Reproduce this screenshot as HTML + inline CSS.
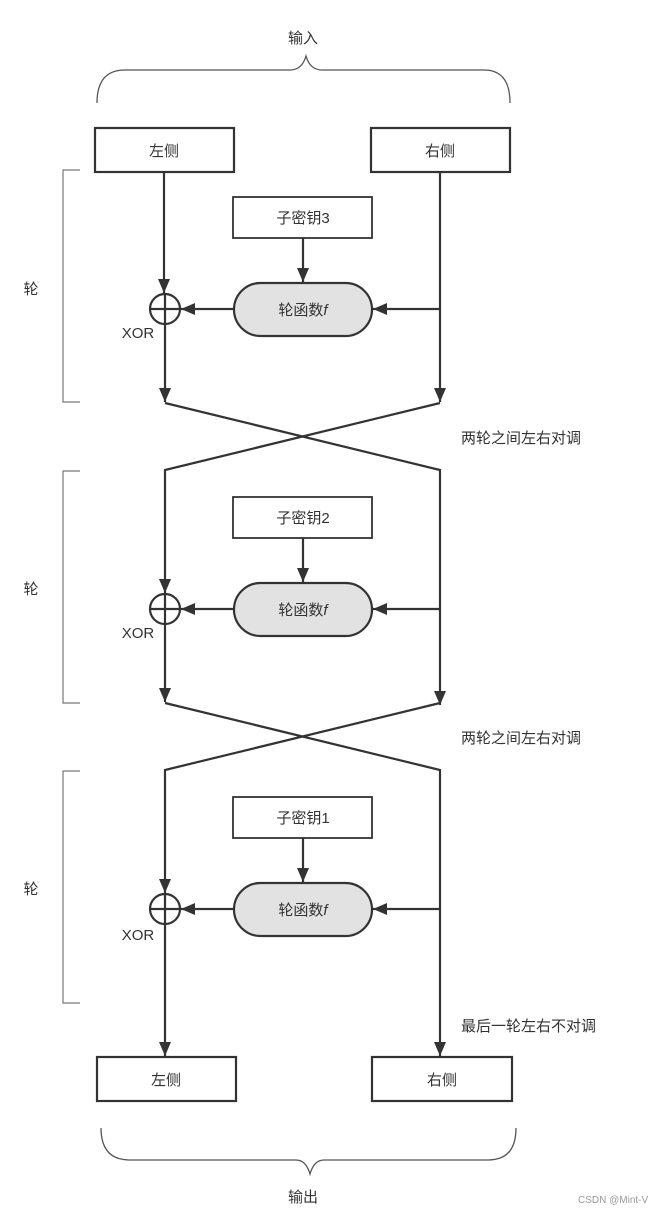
<!DOCTYPE html>
<html><head><meta charset="utf-8"><style>
body{margin:0;background:#fff;}
svg{display:block;}
text{font-family:"Liberation Sans","Noto Sans CJK SC",sans-serif;fill:#333;}
</style></head><body>
<svg width="664" height="1216" viewBox="0 0 664 1216" xmlns="http://www.w3.org/2000/svg">
<defs>
<marker id="a" markerWidth="10" markerHeight="10" refX="9" refY="5" orient="auto" markerUnits="userSpaceOnUse">
<path d="M0,0 L10,5 L0,10 z" fill="#333"/></marker>
<marker id="b" markerWidth="14" markerHeight="12" refX="14" refY="6" orient="auto" markerUnits="userSpaceOnUse">
<path d="M0,0 L14,6 L0,12 z" fill="#333"/></marker>
</defs>
<g stroke="#333" fill="none" stroke-width="2.2">
<!-- top brace -->
<path d="M97,103 Q97,70 125,70 L290,70 Q302,70 306,56 Q310,70 322,70 L484,70 Q510,70 510,103" stroke="#555" stroke-width="1.3"/>
<!-- bottom brace -->
<path d="M101,1128 Q101,1160 130,1160 L296,1160 Q306,1160 310,1174 Q314,1160 324,1160 L488,1160 Q516,1160 516,1128" stroke="#555" stroke-width="1.3"/>
<!-- side brackets -->
<path d="M80,170 L63,170 L63,402 L80,402" stroke="#777" stroke-width="1.2"/>
<path d="M80,471 L63,471 L63,703 L80,703" stroke="#777" stroke-width="1.2"/>
<path d="M80,771 L63,771 L63,1003 L80,1003" stroke="#777" stroke-width="1.2"/>
<!-- boxes -->
<rect x="95" y="128" width="139" height="44"/>
<rect x="371" y="128" width="139" height="44"/>
<rect x="97" y="1057" width="139" height="44"/>
<rect x="372" y="1057" width="140" height="44"/>
<rect x="233" y="197" width="139" height="41" stroke-width="1.8"/>
<rect x="233" y="497" width="139" height="41" stroke-width="1.8"/>
<rect x="233" y="797" width="139" height="41" stroke-width="1.8"/>
<rect x="234" y="283" width="138" height="53" rx="26.5" fill="#e2e2e2"/>
<rect x="234" y="583" width="138" height="53" rx="26.5" fill="#e2e2e2"/>
<rect x="234" y="883" width="138" height="53" rx="26.5" fill="#e2e2e2"/>
<!-- XOR circles -->
<circle cx="165" cy="309" r="15"/><path d="M150,309 H180 M165,294 V324"/>
<circle cx="165" cy="609" r="15"/><path d="M150,609 H180 M165,594 V624"/>
<circle cx="165" cy="909" r="15"/><path d="M150,909 H180 M165,894 V924"/>
<!-- round 1 -->
<path d="M164,172 V293" marker-end="url(#b)"/>
<path d="M440,172 V402" marker-end="url(#b)"/>
<path d="M303,238 V282" marker-end="url(#b)"/>
<path d="M440,309 H373" marker-end="url(#b)"/>
<path d="M234,309 H181" marker-end="url(#b)"/>
<path d="M165,324 V402" marker-end="url(#b)"/>
<path d="M165,403 L440,470 V705" marker-end="url(#b)"/>
<path d="M440,403 L165,470 V593" marker-end="url(#b)"/>
<!-- round 2 -->
<path d="M303,538 V582" marker-end="url(#b)"/>
<path d="M440,609 H373" marker-end="url(#b)"/>
<path d="M234,609 H181" marker-end="url(#b)"/>
<path d="M165,624 V702" marker-end="url(#b)"/>
<path d="M165,703 L440,770 V1056" marker-end="url(#b)"/>
<path d="M440,703 L165,770 V893" marker-end="url(#b)"/>
<!-- round 3 -->
<path d="M303,838 V882" marker-end="url(#b)"/>
<path d="M440,909 H373" marker-end="url(#b)"/>
<path d="M234,909 H181" marker-end="url(#b)"/>
<path d="M165,924 V1056" marker-end="url(#b)"/>
</g>
<g font-size="15" text-anchor="middle">
<text x="303" y="43">输入</text>
<text x="303" y="1202">输出</text>
<text x="164" y="156">左侧</text>
<text x="440" y="156">右侧</text>
<text x="166" y="1085">左侧</text>
<text x="442" y="1085">右侧</text>
<text x="303" y="223">子密钥3</text>
<text x="303" y="523">子密钥2</text>
<text x="303" y="823">子密钥1</text>
<text x="303" y="315">轮函数<tspan font-style="italic">f</tspan></text>
<text x="303" y="615">轮函数<tspan font-style="italic">f</tspan></text>
<text x="303" y="915">轮函数<tspan font-style="italic">f</tspan></text>
<text x="31" y="294">轮</text>
<text x="31" y="594">轮</text>
<text x="31" y="894">轮</text>
<text x="138" y="338">XOR</text>
<text x="138" y="638">XOR</text>
<text x="138" y="940">XOR</text>
</g>
<g font-size="15">
<text x="461" y="443">两轮之间左右对调</text>
<text x="461" y="743">两轮之间左右对调</text>
<text x="461" y="1031">最后一轮左右不对调</text>
</g>
<text x="578" y="1203" font-size="10" fill="#999" style="fill:#999">CSDN @Mint-V</text>
</svg>
</body></html>
